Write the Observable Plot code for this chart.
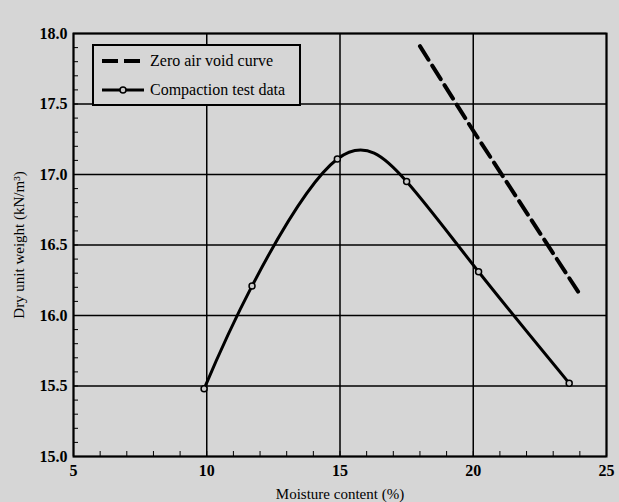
<!DOCTYPE html>
<html><head><meta charset="utf-8">
<script src="https://cdn.jsdelivr.net/npm/d3@7"></script>
<script src="https://cdn.jsdelivr.net/npm/@observablehq/plot@0.6"></script>
<style>
body{margin:0;background:#d6d6d6;}
#wrap{position:relative;width:619px;height:502px;font-family:"Liberation Serif",serif;}
#legend{position:absolute;left:92px;top:44px;width:205px;height:58px;border:2px solid #000;background:#d6d6d6;font-size:16px;}
#legend .row{display:flex;align-items:center;height:29px;padding-left:8px;}
#legend svg{margin-right:6px;}
</style></head>
<body><div id="wrap"><div id="legend">
<div class="row"><svg width="42" height="10"><line x1="0" y1="5" x2="42" y2="5" stroke="#000" stroke-width="4" stroke-dasharray="16,6"/></svg>Zero air void curve</div>
<div class="row"><svg width="42" height="10"><line x1="0" y1="5" x2="42" y2="5" stroke="#000" stroke-width="3"/><circle cx="21" cy="5" r="3" fill="#ccc" stroke="#000" stroke-width="1.5"/></svg>Compaction test data</div>
</div></div>
<script>
const moisture = [9.9, 11.7, 14.9, 17.5, 20.2, 23.6];
const dryWeight = [15.48, 16.21, 17.11, 16.95, 16.31, 15.52];
const zavMoisture = [18.0, 20.0, 22.0, 24.0];
const zavWeight = [17.91, 17.31, 16.73, 16.15];
const xTicks = [5, 10, 15, 20, 25];
const yTicks = [15.0, 15.5, 16.0, 16.5, 17.0, 17.5, 18.0];
const xMinor = d3.range(5, 25.01, 1);
const yMinor = d3.range(15, 18.001, 0.1);

const test = moisture.map((m, i) => ({m, w: dryWeight[i]}));
const zav = zavMoisture.map((m, i) => ({m, w: zavWeight[i]}));

const serif = "Liberation Serif";
const chart = Plot.plot({
  width: 619, height: 502,
  marginLeft: 73, marginRight: 13, marginTop: 33, marginBottom: 46,
  style: {fontFamily: "'Liberation Serif', serif", fontSize: "15px", background: "transparent", color: "#000"},
  x: {domain: [5, 25]},
  y: {domain: [15, 18]},
  marks: [
    Plot.gridX(xTicks, {stroke: "#000", strokeOpacity: 1, strokeWidth: 1.5}),
    Plot.gridY(yTicks, {stroke: "#000", strokeOpacity: 1, strokeWidth: 1.5}),
    Plot.axisX(xMinor, {tickSize: -5, tickFormat: () => "", label: null}),
    Plot.axisY(yMinor, {tickSize: -5, tickFormat: () => "", label: null}),
    Plot.axisX(xTicks, {tickSize: 0, tickPadding: 8, fontFamily: serif, fontWeight: "bold", fontSize: 16, label: null}),
    Plot.axisX({ticks: [], label: "Moisture content (%)", labelAnchor: "center", labelArrow: "none", labelOffset: 42, fontFamily: serif, fontSize: 15}),
    Plot.axisY(yTicks, {tickSize: 0, tickPadding: 6, tickFormat: d3.format(".1f"), fontFamily: serif, fontWeight: "bold", fontSize: 16, label: null}),
    Plot.axisY({ticks: [], label: "Dry unit weight (kN/m³)", labelAnchor: "center", labelArrow: "none", labelOffset: 60, fontFamily: serif, fontSize: 15}),
    Plot.frame({stroke: "#000", strokeWidth: 2}),
    Plot.line(zav, {x: "m", y: "w", stroke: "#000", strokeWidth: 4, strokeDasharray: "16,7"}),
    Plot.line(test, {x: "m", y: "w", stroke: "#000", strokeWidth: 3, curve: "natural"}),
    Plot.dot(test, {x: "m", y: "w", r: 3, fill: "#ccc", stroke: "#000", strokeWidth: 1.5})
  ]
});
document.getElementById("wrap").prepend(chart);
chart.style.position = "absolute";
chart.style.left = "0";
chart.style.top = "0";
</script></body></html>
